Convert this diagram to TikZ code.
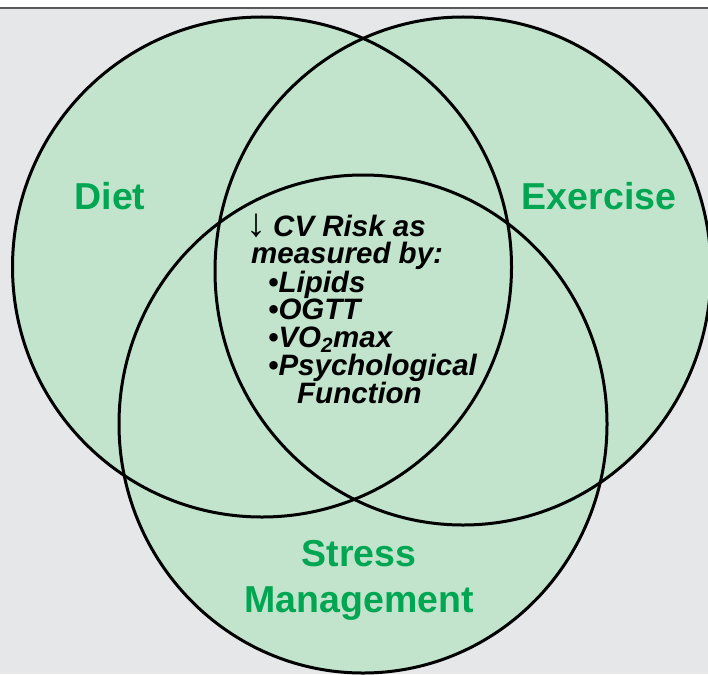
\documentclass[tikz,border=0pt]{standalone}
\usepackage{fontspec}
\setmainfont{Liberation Sans}
\definecolor{bggray}{RGB}{230,231,233}
\definecolor{vennfill}{RGB}{194,228,204}
\definecolor{labgreen}{RGB}{0,166,81}
\definecolor{rulegray}{RGB}{90,90,90}
\tikzset{
  venn/.style={draw=black, line width=3pt},
  biglabel/.style={font=\fontsize{37.5}{44}\selectfont\bfseries, text=labgreen, inner sep=0pt, anchor=base},
  centerline/.style={font=\fontsize{29.5}{28}\selectfont\bfseries\itshape, text=black, inner sep=0pt, anchor=base west}
}
\begin{document}
\begin{tikzpicture}[x=1pt,y=-1pt]
\useasboundingbox (0,0) rectangle (708,674);
\clip (0,0) rectangle (708,674);
\fill[white] (0,0) rectangle (708,8);
\fill[bggray] (0,8) rectangle (708,674);
\draw[rulegray, line width=1.5pt] (0,8) -- (708,8);
% fills
\fill[vennfill] (262,267) ellipse [x radius=249.5pt, y radius=250pt];
\fill[vennfill] (463,271) ellipse [x radius=248pt, y radius=254pt];
\fill[vennfill] (363,424) ellipse [x radius=244pt, y radius=249pt];
% outlines
\draw[venn] (262,267) ellipse [x radius=249.5pt, y radius=250pt];
\draw[venn] (463,271) ellipse [x radius=248pt, y radius=254pt];
\draw[venn] (363,424) ellipse [x radius=244pt, y radius=249pt];
% labels
\node[biglabel] (diet) at (110,209) {Diet};
\node[biglabel] (exercise) at (599,209) {Exercise};
\node[biglabel] (stress) at (359,566) {Stress};
\node[biglabel] (mgmt) at (359,612) {Management};
% center text
\node[centerline] (l1) at (246,236) {{\fontsize{40}{28}\selectfont\mdseries\upshape ↓}\hspace{7pt}CV Risk as};
\node[centerline] (l2) at (251,263) {measured by:};
\node[centerline] (l3) at (268,292) {•Lipids};
\node[centerline] (l4) at (268,319) {•OGTT};
\node[centerline] (l5) at (268,347) {•VO\textsubscript{2}max};
\node[centerline] (l6) at (268,375) {•Psychological};
\node[centerline] (l7) at (297,403) {Function};
\end{tikzpicture}
\end{document}
